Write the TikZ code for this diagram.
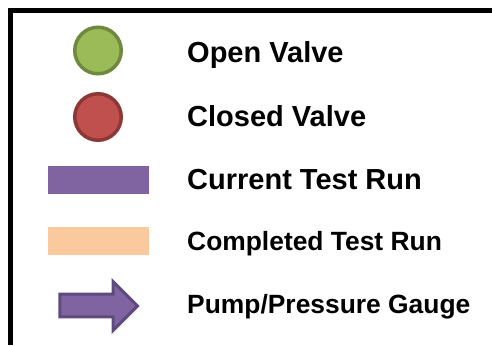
\documentclass[tikz,border=0pt]{standalone}
\usepackage{fontspec}
\setmainfont{Liberation Sans}
\begin{document}
\begin{tikzpicture}[x=1pt,y=-1pt,
  frame/.style={line width=5pt, line cap=butt, line join=miter},
  valve/.style={circle, draw, line width=3.5pt, minimum size=46.5pt, inner sep=0pt},
  runbar/.style={rectangle, minimum width=101pt, minimum height=28pt, inner sep=0pt},
  lbl/.style={anchor=base west, inner sep=0pt, font=\bfseries\fontsize{29}{32}\selectfont},
  lblsmall/.style={anchor=base west, inner sep=0pt, font=\bfseries\fontsize{26.4}{30}\selectfont}]
\definecolor{openfill}{HTML}{9BBB59}
\definecolor{openline}{HTML}{71893F}
\definecolor{closedfill}{HTML}{C0504D}
\definecolor{closedline}{HTML}{8C3836}
\definecolor{runpurple}{HTML}{8064A2}
\definecolor{runpeach}{HTML}{FAC99E}
\definecolor{pumpline}{HTML}{5F4A80}

\useasboundingbox (0,0) rectangle (492,345);

% legend frame (open to the right and bottom)
\draw[frame] (10.5,345) -- (10.5,10.5) -- (492,10.5);

% symbols
\node[valve, fill=openfill, draw=openline] (open) at (98,50.5) {};
\node[valve, fill=closedfill, draw=closedline] (closed) at (98,117) {};
\node[runbar, fill=runpurple] (current) at (98.5,180) {};
\node[runbar, fill=runpeach] (completed) at (98.5,241) {};
\draw[fill=runpurple, draw=pumpline, line width=3pt, line join=miter]
  (59.8,294.2) -- (113,294.2) -- (113,281.5) -- (137.5,306)
  -- (113,330.5) -- (113,316.8) -- (59.8,316.8) -- cycle;

% labels
\node[lbl] (topen) at (187,62.5) {Open Valve};
\node[lbl] (tclosed) at (187,126.7) {Closed Valve};
\node[lbl] (tcurrent) at (187,189.3) {Current Test Run};
\node[lblsmall] (tcompleted) at (187,250.7) {Completed Test Run};
\node[lblsmall] (tpump) at (187,313.3) {Pump/Pressure Gauge};
\end{tikzpicture}
\end{document}
